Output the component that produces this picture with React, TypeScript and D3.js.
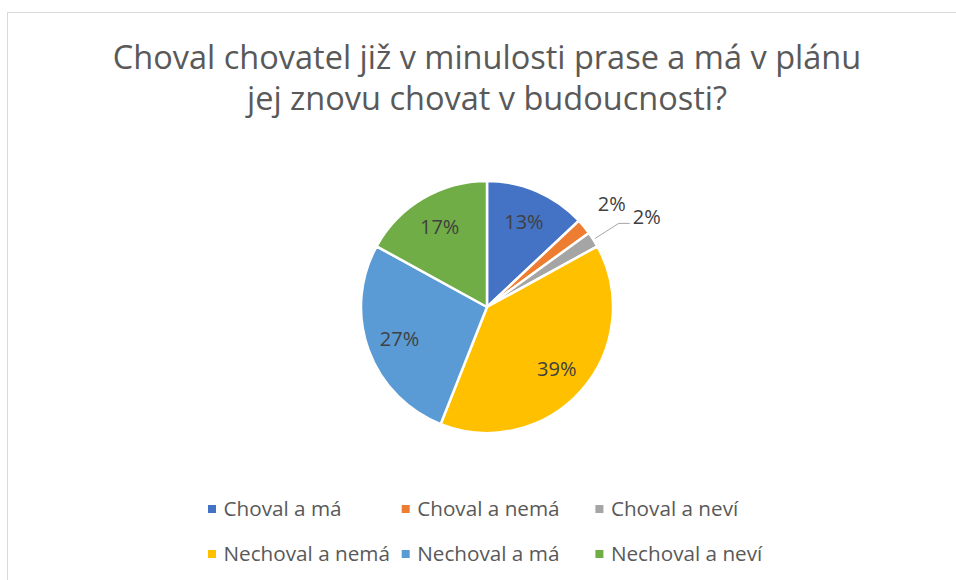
import React, { useEffect, useRef } from 'react';
import * as d3 from 'd3';

const categories = ['Choval a má', 'Choval a nemá', 'Choval a neví', 'Nechoval a nemá', 'Nechoval a má', 'Nechoval a neví'];
const shares = [13, 2, 2, 39, 27, 17];
const colors = ['#4472C4', '#ED7D31', '#A5A5A5', '#FFC000', '#5B9BD5', '#70AD47'];
const titleLines = ['Choval chovatel již v minulosti prase a má v plánu', 'jej znovu chovat v budoucnosti?'];

const width = 956;
const height = 580;

const App: React.FC = () => {
  const svgRef = useRef<SVGSVGElement>(null);

  useEffect(() => {
    if (!svgRef.current) return;
    const svg = d3.select(svgRef.current);
    svg.selectAll('*').remove();

    const font = '"Open Sans", sans-serif';

    // chart area frame
    svg.append('rect')
      .attr('x', 7.5).attr('y', 12.5)
      .attr('width', width + 10).attr('height', height + 10)
      .attr('fill', '#fff')
      .attr('stroke', '#d9d9d9')
      .attr('stroke-width', 1);

    // title
    svg.append('g')
      .selectAll('text')
      .data(titleLines)
      .join('text')
      .attr('x', 487)
      .attr('y', (_, i) => 69 + i * 41)
      .attr('text-anchor', 'middle')
      .attr('font-family', font)
      .attr('font-size', 32.5)
      .attr('fill', '#595959')
      .text(d => d);

    // pie
    const cx = 487, cy = 307, r = 126;
    const data = categories.map((c, i) => ({ name: c, value: shares[i], color: colors[i] }));
    const pie = d3.pie<any>().value(d => d.value).sort(null);
    const arcs = pie(data);
    const arc = d3.arc<any>().innerRadius(0).outerRadius(r);
    const labelArc = d3.arc<any>().innerRadius(93).outerRadius(93);

    const g = svg.append('g').attr('transform', `translate(${cx},${cy})`);

    g.selectAll('path')
      .data(arcs)
      .join('path')
      .attr('d', arc)
      .attr('fill', d => d.data.color)
      .attr('stroke', '#fff')
      .attr('stroke-width', 2.5)
      .attr('stroke-linejoin', 'round');

    const polar = (a: number, rad: number) => [Math.sin(a) * rad, -Math.cos(a) * rad];

    arcs.forEach((d, i) => {
      const mid = (d.startAngle + d.endAngle) / 2;
      const label = `${d.data.value}%`;
      if (i === 1) {
        // small slice, label just outside
        const [x, y] = polar(mid, 162);
        g.append('text')
          .attr('x', x).attr('y', y)
          .attr('dy', '0.35em')
          .attr('text-anchor', 'middle')
          .attr('font-family', font).attr('font-size', 20)
          .attr('fill', '#404040')
          .text(label);
      } else if (i === 2) {
        // small slice, label with leader line
        const [x0, y0] = polar(mid, r + 2);
        const [x1, y1] = polar(mid, 156);
        g.append('path')
          .attr('d', `M${x0},${y0}L${x1},${y1}H${x1 + 11}`)
          .attr('fill', 'none')
          .attr('stroke', '#a6a6a6')
          .attr('stroke-width', 1);
        g.append('text')
          .attr('x', x1 + 14).attr('y', y1 + 1)
          .attr('text-anchor', 'start')
          .attr('font-family', font).attr('font-size', 20)
          .attr('fill', '#404040')
          .text(label);
      } else {
        const [x, y] = labelArc.centroid(d);
        g.append('text')
          .attr('x', x).attr('y', y)
          .attr('dy', '0.35em')
          .attr('text-anchor', 'middle')
          .attr('font-family', font).attr('font-size', 20)
          .attr('fill', '#404040')
          .text(label);
      }
    });

    // legend, 3 columns x 2 rows
    const colX = d3.scaleLinear().domain([0, 1]).range([208, 401.7]);
    const rowY = d3.scaleLinear().domain([0, 1]).range([509, 554]);
    const legend = svg.append('g');
    const item = legend.selectAll('g')
      .data(data)
      .join('g')
      .attr('transform', (_, i) => `translate(${colX(i % 3)},${rowY(Math.floor(i / 3))})`);
    item.append('rect')
      .attr('x', 0).attr('y', -4)
      .attr('width', 8).attr('height', 8)
      .attr('fill', d => d.color);
    item.append('text')
      .attr('x', 15.5).attr('y', 7)
      .attr('font-family', font).attr('font-size', 20.7)
      .attr('fill', '#595959')
      .text(d => d.name);
  }, []);

  return (
    <svg
      ref={svgRef}
      width={width}
      height={height}
      style={{ position: 'absolute', left: 0, top: 0, background: '#fff' }}
    />
  );
};

export default App;
